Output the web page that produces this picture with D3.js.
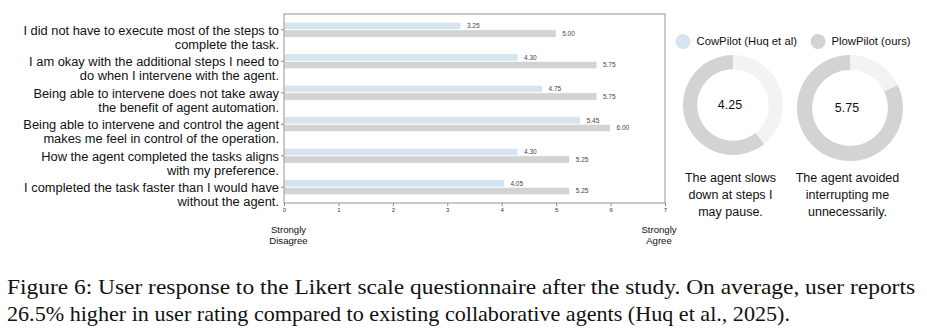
<!DOCTYPE html>
<html>
<head>
<meta charset="utf-8">
<script src="https://cdn.jsdelivr.net/npm/d3@7"></script>
<style>
  html, body { margin: 0; padding: 0; background: #fff; }
  svg { display: block; }
</style>
</head>
<body>
<svg id="fig" width="927" height="334"></svg>
<script>
// Likert statements (each split into its two display lines)
const statements = [
  ["I did not have to execute most of the steps to", "complete the task."],
  ["I am okay with the additional steps I need to", "do when I intervene with the agent."],
  ["Being able to intervene does not take away", "the benefit of agent automation."],
  ["Being able to intervene and control the agent", "makes me feel in control of the operation."],
  ["How the agent completed the tasks aligns", "with my preference."],
  ["I completed the task faster than I would have", "without the agent."]
];
const seriesNames = ["CowPilot (Huq et al)", "PlowPilot (ours)"];
const cowpilotScores = [3.25, 4.30, 4.75, 5.45, 4.30, 4.05];
const plowpilotScores = [5.00, 5.75, 5.75, 6.00, 5.25, 5.25];
const xTicks = [0, 1, 2, 3, 4, 5, 6, 7];
const scaleEnds = [["Strongly", "Disagree"], ["Strongly", "Agree"]];

// PlowPilot-only ratings shown as rings
const ringScores = [4.25, 5.75];
const ringCaptions = [
  ["The agent slows", "down at steps I", "may pause."],
  ["The agent avoided", "interrupting me", "unnecessarily."]
];

const captionLines = [
  "Figure 6: User response to the Likert scale questionnaire after the study. On average, user reports",
  "26.5% higher in user rating compared to existing collaborative agents (Huq et al., 2025)."
];

const colors = { cow: "#d5e4ef", plow: "#d3d3d3", rest: "#f3f3f3", frame: "#8a8a8a" };
const sans = "'Liberation Sans', Arial, Helvetica, sans-serif";

const svg = d3.select("#fig");

// ---- bar panel ----
const plot = { left: 284, right: 665, top: 14, bottom: 203 };
const x = d3.scaleLinear().domain([0, 7]).range([plot.left, plot.right]);
const y = d3.scaleBand().domain(d3.range(statements.length)).range([plot.top, plot.bottom]);
const barH = y.bandwidth() * 0.24;

const rows = statements.map((s, i) => ({ i, cow: cowpilotScores[i], plow: plowpilotScores[i] }));
const g = svg.append("g");

// bars
const rowG = g.selectAll("g.row").data(rows).join("g").attr("class", "row")
  .attr("transform", d => `translate(0,${y(d.i) + y.bandwidth() / 2})`);

rowG.append("rect")
  .attr("x", x(0)).attr("y", -barH)
  .attr("width", d => x(d.cow) - x(0)).attr("height", barH)
  .attr("fill", colors.cow).attr("stroke", "#fff").attr("stroke-width", 0.8);
rowG.append("rect")
  .attr("x", x(0)).attr("y", 0)
  .attr("width", d => x(d.plow) - x(0)).attr("height", barH)
  .attr("fill", colors.plow).attr("stroke", "#fff").attr("stroke-width", 0.8);

const fmt = d3.format(".2f");
rowG.append("text")
  .attr("x", d => x(d.cow) + 6).attr("y", -barH / 2)
  .attr("dy", "0.35em")
  .attr("font-family", sans).attr("font-size", 6.5).attr("fill", "#444")
  .text(d => fmt(d.cow));
rowG.append("text")
  .attr("x", d => x(d.plow) + 6).attr("y", barH / 2)
  .attr("dy", "0.35em")
  .attr("font-family", sans).attr("font-size", 6.5).attr("fill", "#444")
  .text(d => fmt(d.plow));

// frame
g.append("rect")
  .attr("x", plot.left).attr("y", plot.top)
  .attr("width", plot.right - plot.left).attr("height", plot.bottom - plot.top)
  .attr("fill", "none").attr("stroke", colors.frame).attr("stroke-width", 0.9);

// x axis
const xAxis = g.append("g")
  .attr("transform", `translate(0,${plot.bottom})`)
  .call(d3.axisBottom(x).tickValues(xTicks).tickSize(3).tickPadding(2).tickFormat(d3.format("d")));
xAxis.select(".domain").remove();
xAxis.selectAll(".tick line").attr("stroke", colors.frame);
xAxis.selectAll(".tick text").attr("font-family", sans).attr("font-size", 6).attr("fill", "#333");

// y axis ticks + two-line statement labels
const yAxis = g.append("g").attr("transform", `translate(${plot.left},0)`)
  .call(d3.axisLeft(y).tickSize(3).tickFormat(() => ""));
yAxis.select(".domain").remove();
yAxis.selectAll(".tick line").attr("stroke", colors.frame);

const labelG = g.selectAll("text.stmt").data(rows).join("text").attr("class", "stmt")
  .attr("text-anchor", "end")
  .attr("font-family", sans).attr("font-size", 12.85).attr("fill", "#111")
  .attr("transform", d => `translate(279,${y(d.i) + y.bandwidth() / 2})`);
labelG.selectAll("tspan").data(d => statements[d.i]).join("tspan")
  .attr("x", 0).attr("y", (d, j) => 4.8 + j * 14)
  .text(d => d);

// scale end annotations
const endX = [x(0) + 4.5, x(7) - 6];
scaleEnds.forEach((lines, k) => {
  const t = g.append("text")
    .attr("text-anchor", "middle")
    .attr("font-family", sans).attr("font-size", 9.6).attr("fill", "#111");
  lines.forEach((s, j) => t.append("tspan").attr("x", endX[k]).attr("y", 232.5 + j * 11.3).text(s));
});

// ---- legend ----
const legendX = [683, 818];
const legendColors = [colors.cow, colors.plow];
seriesNames.forEach((name, k) => {
  svg.append("circle").attr("cx", legendX[k]).attr("cy", 41.5).attr("r", 7.5).attr("fill", legendColors[k]);
  svg.append("text").attr("x", legendX[k] + 13.5).attr("y", 41.5).attr("dy", "0.35em")
    .attr("font-family", sans).attr("font-size", 11.3).attr("fill", "#111").text(name);
});

// ---- rings ----
const ringCenters = [[733, 105, 50], [850, 108, 53]];
ringScores.forEach((v, k) => {
  const [cx, cy, r] = ringCenters[k];
  const rg = svg.append("g").attr("transform", `translate(${cx},${cy})`);
  const pie = d3.pie().sort(null).value(d => d.v);
  // remainder runs clockwise from 12 o'clock; the score fills the rest
  const parts = pie([{ v: 7 - v, c: colors.rest }, { v: v, c: colors.plow }]);
  const arc = d3.arc().innerRadius(r * 0.715).outerRadius(r);
  rg.selectAll("path").data(parts).join("path")
    .attr("d", arc).attr("fill", d => d.data.c);
  rg.append("text").attr("x", -3).attr("text-anchor", "middle").attr("dy", "0.35em")
    .attr("font-family", sans).attr("font-size", 12.5).attr("fill", "#111")
    .text(fmt(v));
  const t = svg.append("text").attr("text-anchor", "middle")
    .attr("font-family", sans).attr("font-size", 12.5).attr("fill", "#111");
  ringCaptions[k].forEach((s, j) =>
    t.append("tspan").attr("x", cx - 2.5).attr("y", 182 + j * 17).text(s));
});

// ---- figure caption (book-style serif, set to the full text width) ----
const captionWidths = [908, 783];
const cap = svg.append("text")
  .attr("font-family", "'Liberation Serif', 'Times New Roman', serif")
  .attr("font-size", 21.5).attr("fill", "#111");
captionLines.forEach((s, j) => cap.append("tspan")
  .attr("x", 7).attr("y", 294 + j * 27)
  .attr("textLength", captionWidths[j]).attr("lengthAdjust", "spacingAndGlyphs")
  .text(s));
</script>
</body>
</html>
